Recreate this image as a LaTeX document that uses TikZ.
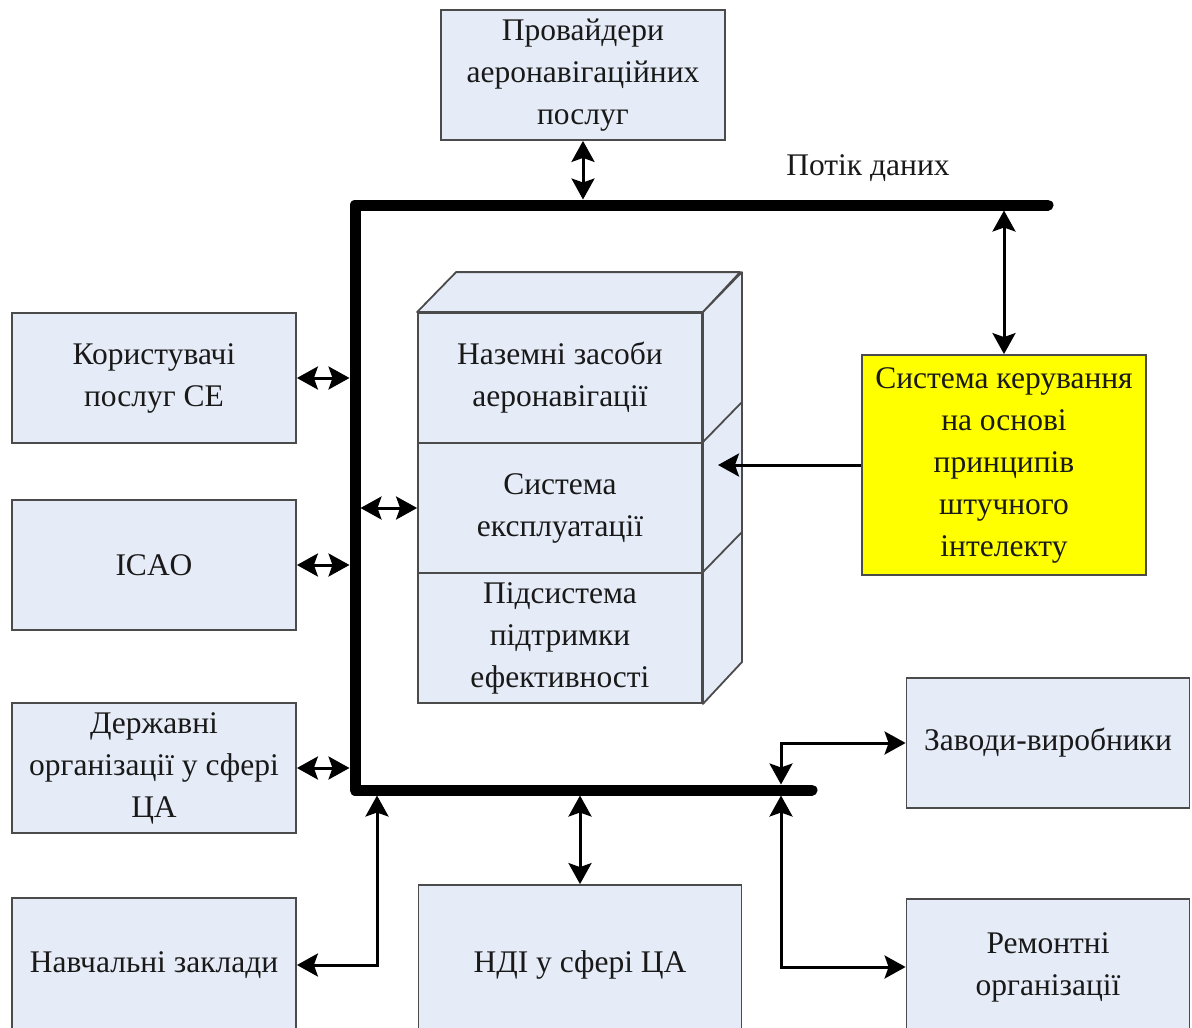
\documentclass[tikz,border=0pt]{standalone}
\usepackage{fontspec}
\setmainfont{Liberation Serif}
\usetikzlibrary{arrows.meta}
\definecolor{boxfill}{RGB}{230,236,247}
\definecolor{boxline}{RGB}{75,75,75}
\definecolor{aifill}{RGB}{255,255,0}
\tikzset{
  txt/.style={font=\fontsize{31.5}{42}\selectfont, align=center, text=black!90},
  box/.style={txt, draw=boxline, fill=boxfill, line width=1.8pt, inner sep=0pt,
              minimum width=284pt, minimum height=130pt},
  face/.style={draw=boxline, fill=boxfill, line width=1.8pt, line join=round},
  link/.style={line width=3pt,
    {Stealth[length=21pt 0, width=23pt 0, inset=4pt]}-{Stealth[length=21pt 0, width=23pt 0, inset=4pt]}},
  onelink/.style={line width=3pt, -{Stealth[length=21pt 0, width=23pt 0, inset=4pt]}},
  bus/.style={line width=11pt, line cap=round, line join=round}
}
\begin{document}
\begin{tikzpicture}[x=1pt, y=-1pt]
\clip (0,0) rectangle (1192,1028);
\fill[white] (0,0) rectangle (1192,1028);

% data bus corners
\coordinate (bTR) at (1048,205);
\coordinate (bTL) at (355,205);
\coordinate (bBL) at (355,790);
\coordinate (bBR) at (812,790);
\coordinate (nvx) at (377,790);
\coordinate (jx)  at (781,790);
\coordinate (side) at (718,465);

% top provider box
\node[box] (prov) at (583,75) {Провайдери\\аеронавігаційних\\послуг};
\node[txt] (flow) at (868,168) {Потік даних};

% left column
\node[box] (kor)  at (154,378) {Користувачі\\послуг СЕ};
\node[box] (icao) at (154,565) {ICAO};
\node[box] (derz) at (154,768) {Державні\\організації у сфері\\ЦА};
\node[box, minimum height=134pt] (nav) at (154,965) {Навчальні заклади};

% central block: three stacked faces with depth
\node[box] (naz) at (560,378) {Наземні засоби\\аеронавігації};
\node[box] (exp) at (560,508) {Система\\експлуатації};
\node[box] (pid) at (560,638) {Підсистема\\підтримки\\ефективності};
\filldraw[face] (naz.north west) -- ++(39,-40) -- ++(284,0) -- (naz.north east) -- cycle;
\filldraw[face] (naz.north east) -- ++(39,-40) -- ++(0,390) -- (pid.south east) -- cycle;
\draw[face] (exp.north east) -- ++(39,-40);
\draw[face] (pid.north east) -- ++(39,-40);

% AI control system
\node[box, fill=aifill, minimum height=220pt] (ai) at (1004,465)
  {Система керування\\на основі\\принципів\\штучного\\інтелекту};

% bottom row and right column
\node[box, minimum width=323pt, minimum height=160pt] (ndi) at (580,965) {НДІ у сфері ЦА};
\node[box, minimum width=283pt] (zav) at (1048,743) {Заводи-виробники};
\node[box, minimum width=283pt, minimum height=136pt] (rem) at (1048,967) {Ремонтні\\організації};

% data bus
\draw[bus] (bTR) -- (bTL) -- (bBL) -- (bBR);

% connectors
\draw[link, shorten >=5.5pt] (prov.south) -- (prov.south |- bTL);
\draw[link, shorten <=5.5pt] (ai.north |- bTR) -- (ai.north);
\draw[onelink] (ai.west) -- (side);
\draw[link, shorten <=5.5pt] (bTL |- exp.west) -- (exp.west);
\draw[link, shorten >=5.5pt] (kor.east) -- (kor.east -| bTL);
\draw[link, shorten >=5.5pt] (icao.east) -- (icao.east -| bTL);
\draw[link, shorten >=5.5pt] (derz.east) -- (derz.east -| bTL);
\draw[link, shorten <=5.5pt] (nvx) |- (nav.east);
\draw[link, shorten <=5.5pt] (ndi.north |- bBL) -- (ndi.north);
\draw[link, shorten <=5.5pt] (jx) |- (zav.west);
\draw[link, shorten <=5.5pt] (jx) |- (rem.west);
\end{tikzpicture}
\end{document}
